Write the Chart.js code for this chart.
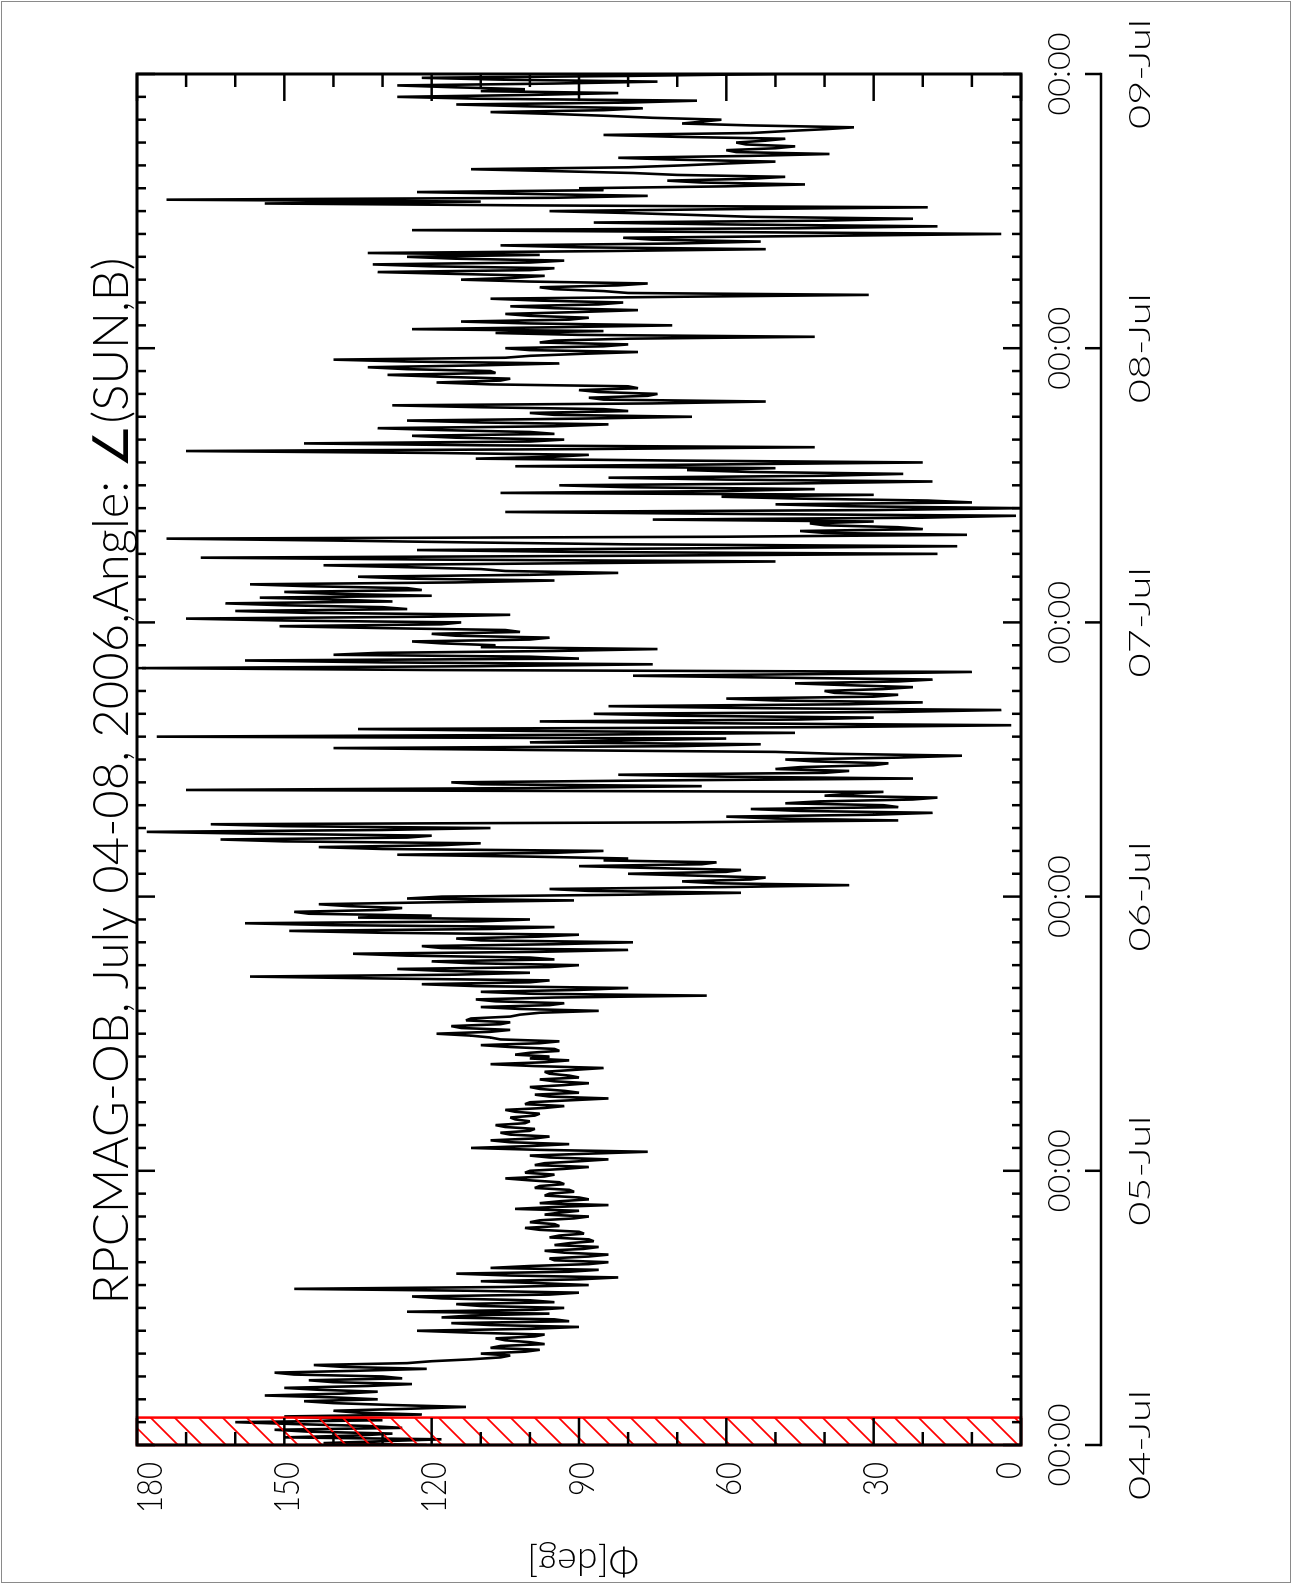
<!DOCTYPE html>
<html>
<head>
<meta charset="utf-8">
<script src="https://cdn.jsdelivr.net/npm/chart.js@4.4.1/dist/chart.umd.min.js"></script>
<style>
html,body{margin:0;padding:0;background:#fff;}
#page{position:relative;width:1301px;height:1586px;overflow:hidden;background:#fff;}
#border{position:absolute;left:1px;top:1px;width:1290px;height:1582px;border:1px solid #8a8a8a;box-sizing:border-box;pointer-events:none;}
#rot{position:absolute;left:0;top:1586px;width:1586px;height:1301px;transform-origin:0 0;transform:rotate(-90deg);}
#c{display:block;width:1586px;height:1301px;}
</style>
</head>
<body>
<div id="page">
  <div id="rot"><canvas id="c" width="1586" height="1301"></canvas></div>
  <div id="border"></div>
</div>
<script>
// ---------------- data ----------------
const titleText = 'RPCMAG-OB, July 04-08, 2006,Angle: \u2220(SUN,B)';
const yAxisTitle = '\u03A6[deg]';
const sampleStepHours = 1 / 6;           // one value every 10 minutes from 04-Jul 00:00
const dayTickHours = [0, 24, 48, 72, 96, 120];
const dayTickLabels = ['04-Jul', '05-Jul', '06-Jul', '07-Jul', '08-Jul', '09-Jul'];
const timeTickLabel = '00:00';
const phiTickValues = [180, 150, 120, 90, 60, 30, 0];
const hatchRangeHours = [0, 2.4];
const phiValues = [
  // 04-Jul
  121,142,130,118,150,135,128,145,152,126,133,148,160,130,140,150,122,135,140,125,
  113,128,140,146,131,140,154,138,131,143,150,133,124,140,145,126,130,148,152,135,
  121,138,144,125,120,112,106,104,110,101,98,108,106,97,100,105,107,99,97,112,
  123,100,90,108,116,92,95,118,112,96,125,99,93,110,115,95,100,118,124,96,
  90,112,148,105,88,98,110,90,82,104,115,92,86,108,100,88,84,95,96,88,
  84,93,97,89,86,95,92,87,88,96,94,89,90,98,101,94,95,100,98,91,
  88,97,94,90,103,95,84,98,94,88,90,97,96,91,92,99,98,93,94,100,
  // 05-Jul
  105,97,95,101,100,93,88,99,97,90,84,96,100,88,76,98,112,100,92,104,
  108,99,96,104,106,100,99,105,107,101,100,103,104,99,98,103,105,97,93,101,
  100,92,84,96,99,90,93,98,100,93,88,95,98,90,92,96,97,91,85,99,
  108,97,92,100,96,103,100,94,95,104,110,98,94,106,108,112,119,108,104,114,
  116,106,104,113,112,104,102,98,86,102,110,96,93,107,111,95,64,100,110,90,
  80,111,122,100,96,130,157,115,100,118,127,96,90,112,120,95,100,125,136,98,
  80,118,122,95,79,110,115,98,90,130,149,108,95,140,158,110,100,135,120,145,
  // 06-Jul
  148,130,126,137,143,120,91,125,118,80,57,88,96,60,35,62,69,55,52,66,
  80,60,57,75,90,65,62,85,80,100,127,95,85,130,143,118,110,150,163,125,
  120,155,178,130,108,150,165,70,25,50,60,30,18,45,55,25,28,48,41,22,
  17,40,35,28,170,100,65,110,116,75,22,60,82,40,35,50,45,30,27,42,
  48,25,12,38,50,100,140,70,53,100,81,60,176,90,46,100,135,40,2,60,
  98,45,30,70,87,25,4,55,84,35,20,50,60,30,25,38,40,28,22,35,
  46,25,18,50,79,35,10,120,179,110,75,130,158,90,100,140,131,95,74,110,
  // 07-Jul
  107,118,124,100,96,115,120,102,105,130,151,118,114,150,170,120,104,145,160,125,
  130,150,162,128,140,155,120,140,150,122,125,145,157,115,95,125,135,100,82,105,
  110,125,142,95,50,120,167,80,17,90,123,60,13,80,112,140,174,60,11,40,
  45,20,25,40,43,30,75,20,1,60,105,30,0,35,50,10,19,45,61,30,
  106,60,42,80,94,45,18,60,84,40,24,55,68,50,103,60,20,70,111,95,
  88,120,170,90,42,110,146,100,93,115,124,95,100,118,131,95,84,110,125,90,
  67,95,100,80,85,110,128,75,52,85,88,76,74,86,90,78,80,108,119,106,
  // 08-Jul
  104,118,129,107,108,125,133,110,94,125,140,105,100,90,78,100,105,85,80,98,
  95,80,42,90,107,85,124,95,71,100,114,92,88,100,105,90,78,95,104,86,
  81,98,108,70,31,80,85,95,98,82,76,100,114,103,97,115,131,100,95,120,
  132,100,93,115,125,98,133,85,52,90,106,70,53,75,81,40,4,60,124,45,
  17,60,87,40,22,55,67,80,96,60,19,100,154,110,174,95,76,100,123,85,
  90,60,44,65,72,55,48,70,79,95,112,80,69,60,50,70,82,55,39,58,
  60,50,46,56,58,52,48,70,85,55,48,40,34,55,69,65,61,75,84,95,
  108,85,77,100,115,80,66,110,127,100,82,110,101,115,127,95,74,105,122,80,50
];

// ---------------- drawing ----------------
const FONT = 'Lato, "DejaVu Sans", "Liberation Sans", Arial, sans-serif';
const FONT_WEIGHT = '300';
const points = phiValues.map((v, i) => ({ x: i * sampleStepHours, y: v }));

function fitText(ctx, str, x, y, size, targetW, align, baseline, rot) {
  ctx.save();
  ctx.font = FONT_WEIGHT + ' ' + size + 'px ' + FONT;
  const w = ctx.measureText(str).width;
  const sx = targetW ? targetW / w : 1;
  ctx.translate(x, y);
  if (rot) ctx.rotate(rot);
  ctx.scale(sx, 1);
  ctx.textAlign = align;
  ctx.textBaseline = baseline;
  ctx.fillStyle = '#000';
  ctx.fillText(str, 0, 0);
  ctx.restore();
}

function line(ctx, x0, y0, x1, y1) {
  ctx.beginPath(); ctx.moveTo(x0, y0); ctx.lineTo(x1, y1); ctx.stroke();
}

const decor = {
  id: 'decor',
  beforeDraw(chart) {
    const ctx = chart.ctx;
    ctx.save(); ctx.fillStyle = '#fff'; ctx.fillRect(0, 0, chart.width, chart.height); ctx.restore();
  },
  afterDatasetsDraw(chart) {
    const { ctx, chartArea: a, scales: { x, y } } = chart;
    // hatched red box
    const hx0 = x.getPixelForValue(hatchRangeHours[0]);
    const hx1 = x.getPixelForValue(hatchRangeHours[1]);
    ctx.save();
    ctx.beginPath(); ctx.rect(hx0, a.top, hx1 - hx0, a.bottom - a.top); ctx.clip();
    ctx.strokeStyle = '#ff0000'; ctx.lineWidth = 1.6;
    const step = 24, phase = 1135;
    let c0 = hx0 + a.top; c0 = phase + Math.floor((c0 - phase) / step) * step;
    for (let c = c0; c <= hx1 + a.bottom + step; c += step) {
      line(ctx, c - a.top, a.top, c - a.bottom, a.bottom);
    }
    ctx.restore();
    ctx.save();
    ctx.strokeStyle = '#ff0000'; ctx.lineWidth = 2.5;
    ctx.strokeRect(hx0, a.top, hx1 - hx0, a.bottom - a.top);
    ctx.restore();

    // frame
    ctx.save();
    ctx.strokeStyle = '#000'; ctx.lineWidth = 3; ctx.lineCap = 'butt';
    ctx.strokeRect(a.left, a.top, a.right - a.left, a.bottom - a.top);
    ctx.lineWidth = 2.5;
    // time ticks (every 2 h, long at days)
    for (let h = 0; h <= 120; h += 2) {
      const px = x.getPixelForValue(h);
      const len = h % 24 === 0 ? 18 : 9;
      line(ctx, px, a.top, px, a.top + len);
      line(ctx, px, a.bottom, px, a.bottom - len);
    }
    // phi ticks (every 10 deg, long every 30)
    for (let v = 0; v <= 180; v += 10) {
      const py = y.getPixelForValue(v);
      const len = v % 30 === 0 ? 27 : 13;
      line(ctx, a.left, py, a.left + len, py);
      line(ctx, a.right, py, a.right - len, py);
    }
    // secondary date axis below
    const axY = 1101;
    line(ctx, x.getPixelForValue(0) - 1.2, axY, x.getPixelForValue(120) + 1.2, axY);
    dayTickHours.forEach(h => {
      const px = x.getPixelForValue(h);
      line(ctx, px, axY, px, axY - 16);
    });
    ctx.restore();

    // time labels
    dayTickHours.forEach((h, i) => {
      const px = x.getPixelForValue(h);
      fitText(ctx, timeTickLabel, px, 1070, 32, 83, 'center', 'alphabetic');
      fitText(ctx, dayTickLabels[i], px, 1150, 30, 110, 'center', 'alphabetic');
    });
    // phi labels
    phiTickValues.forEach((v, i) => {
      const py = y.getPixelForValue(v);
      const s = String(v);
      let base = py + 14.5;
      if (i === 0) base = a.top + 25;
      if (i === phiTickValues.length - 1) base = a.bottom;
      fitText(ctx, s, 124, base, 35, 17 * s.length, 'right', 'alphabetic');
    });
    // axis title
    fitText(ctx, yAxisTitle, 37, (a.top + a.bottom) / 2 + 4, 38, 112, 'center', 'alphabetic', -Math.PI / 2);
    // title
    fitText(ctx, titleText, 805, 128, 49, 1047, 'center', 'alphabetic');
  }
};

new Chart(document.getElementById('c').getContext('2d'), {
  type: 'line',
  data: {
    datasets: [{
      data: points,
      borderColor: '#000',
      borderWidth: 2.6,
      borderJoinStyle: 'bevel',
      pointRadius: 0,
      tension: 0,
      fill: false
    }]
  },
  options: {
    responsive: false,
    animation: false,
    devicePixelRatio: 1,
    layout: { padding: { left: 141, right: 74, top: 137, bottom: 280 } },
    plugins: { legend: { display: false }, title: { display: false }, tooltip: { enabled: false } },
    scales: {
      x: { type: 'linear', min: 0, max: 120, display: false },
      y: { type: 'linear', min: 0, max: 180, display: false }
    }
  },
  plugins: [decor]
});
</script>
</body>
</html>
